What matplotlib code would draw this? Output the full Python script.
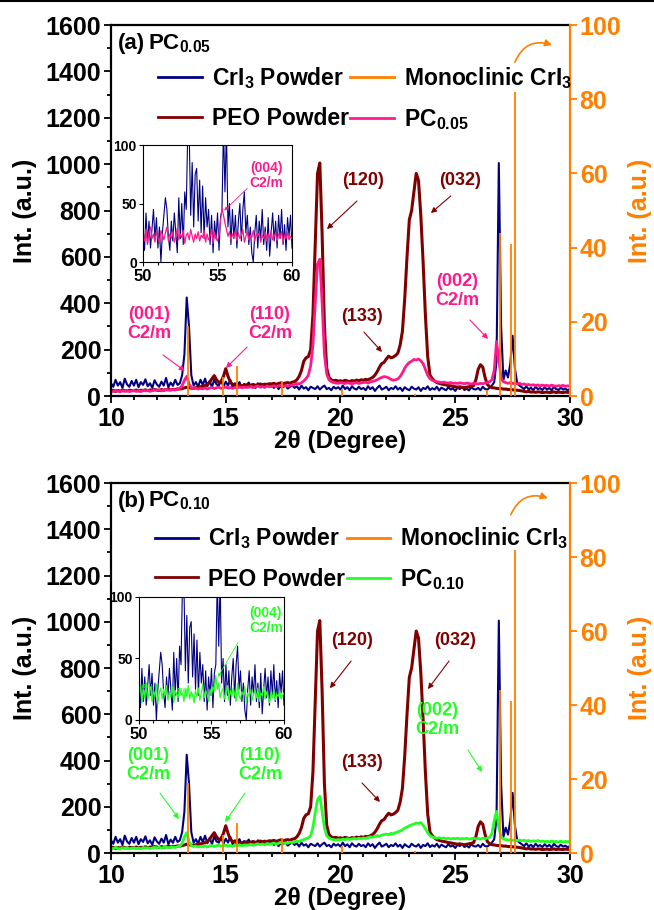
import numpy as np
import matplotlib
matplotlib.use("Agg")
import matplotlib.pyplot as plt
from matplotlib.ticker import MultipleLocator
from matplotlib.lines import Line2D

plt.rcParams['font.family'] = ['Liberation Sans', 'DejaVu Sans']
plt.rcParams['font.weight'] = 'bold'
plt.rcParams['axes.labelweight'] = 'bold'
plt.rcParams['mathtext.fontset'] = 'custom'
plt.rcParams['mathtext.rm'] = 'Liberation Sans:bold'
plt.rcParams['mathtext.bf'] = 'Liberation Sans:bold'
plt.rcParams['mathtext.it'] = 'Liberation Sans:bold:italic'

# ---------------- data ----------------
two_theta = np.round(np.arange(10.0, 30.0001, 0.1), 1)

cri3_powder = [
    55, 40, 70, 45, 60, 35, 75, 50, 40, 65,
    45, 70, 38, 60, 48, 72, 42, 55, 35, 68,
    50, 40, 62, 45, 78, 38, 58, 44, 70, 48,
    55, 90, 180, 425, 300, 90, 45, 60, 40, 70,
    48, 75, 42, 65, 38, 72, 50, 45, 68, 40,
    62, 45, 70, 38, 55, 48, 60, 35, 52, 45,
    58, 40, 50, 35, 55, 42, 48, 38, 52, 40,
    45, 35, 50, 30, 42, 38, 48, 32, 40, 45,
    35, 42, 28, 45, 32, 38, 25, 40, 35, 30,
    42, 28, 38, 45, 30, 35, 25, 40, 32, 38,
    28, 45, 30, 38, 25, 42, 32, 28, 40, 30,
    35, 25, 42, 30, 38, 22, 35, 45, 28, 33,
    40, 25, 35, 30, 42, 28, 36, 22, 38, 30,
    25, 40, 32, 28, 38, 22, 35, 30, 42, 26,
    34, 28, 40, 24, 36, 30, 25, 38, 28, 33,
    22, 36, 30, 40, 26, 32, 24, 38, 30, 28,
    35, 25, 40, 30, 28, 36, 45, 60, 150, 1005,
    300, 70, 110, 80, 140, 260, 120, 55, 45, 38,
    30, 42, 28, 36, 25, 40, 30, 34, 26, 38,
    28, 35, 24, 40, 30, 26, 36, 28, 32, 25,
    30]

peo_powder = [
    22, 25, 20, 24, 21, 26, 23, 22, 25, 24,
    23, 26, 22, 25, 24, 27, 23, 26, 25, 28,
    26, 24, 28, 25, 27, 30, 26, 29, 28, 31,
    30, 32, 35, 38, 36, 34, 33, 36, 38, 40,
    42, 45, 50, 60, 75, 88, 70, 58, 62, 85,
    118, 85, 60, 50, 48, 45, 47, 44, 46, 48,
    45, 47, 50, 46, 48, 52, 49, 51, 50, 53,
    52, 55, 50, 54, 57, 53, 56, 58, 55, 60,
    62, 70, 85, 110, 150, 165, 170, 200, 350, 650,
    960, 1005, 700, 300, 120, 80, 70, 66, 68, 64,
    66, 63, 68, 65, 62, 67, 64, 69, 66, 70,
    68, 72, 70, 75, 80, 90, 105, 125, 140, 145,
    160, 172, 165, 168, 175, 185, 220, 280, 420, 600,
    760, 800, 880, 960, 930, 780, 580, 350, 170, 90,
    75, 65, 58, 55, 52, 50, 48, 45, 44, 42,
    40, 38, 40, 37, 36, 38, 40, 42, 45, 70,
    115, 135, 125, 80, 50, 40, 36, 35, 33, 32,
    32, 30, 30, 28, 28, 27, 26, 25, 24, 22,
    20, 18, 20, 17, 18, 16, 18, 17, 15, 16,
    17, 15, 16, 18, 15, 17, 16, 15, 17, 16,
    16]

pc005 = [
    22, 19, 25, 21, 18, 23, 20, 24, 19, 22,
    24, 20, 23, 19, 25, 22, 24, 20, 23, 26,
    24, 27, 22, 26, 29, 25, 27, 28, 26, 30,
    32, 45, 68, 85, 52, 36, 32, 34, 30, 33,
    31, 35, 30, 34, 37, 32, 36, 38, 33, 36,
    39, 34, 37, 33, 38, 35, 39, 36, 38, 37,
    38, 41, 36, 40, 43, 38, 41, 37, 43, 40,
    41, 44, 40, 43, 46, 42, 45, 43, 47, 46,
    50, 54, 52, 58, 65, 75, 90, 130, 220, 400,
    570, 590, 400, 180, 95, 70, 62, 58, 56, 55,
    58, 56, 54, 58, 55, 53, 56, 58, 54, 57,
    58, 60, 56, 61, 63, 66, 70, 76, 80, 84,
    82, 78, 72, 68, 70, 74, 84, 100, 120, 135,
    145, 150, 158, 155, 160, 152, 140, 115, 90, 75,
    68, 64, 62, 60, 58, 60, 57, 56, 58, 55,
    56, 54, 57, 55, 53, 56, 54, 52, 55, 53,
    52, 55, 53, 56, 58, 62, 70, 110, 235, 160,
    75, 62, 58, 55, 58, 54, 56, 52, 55, 50,
    52, 48, 50, 46, 49, 45, 48, 44, 47, 45,
    46, 43, 47, 44, 42, 45, 43, 46, 42, 44,
    43]

pc010 = [
    22, 18, 25, 20, 17, 23, 19, 24, 18, 21,
    23, 19, 22, 18, 24, 21, 23, 19, 22, 25,
    22, 26, 21, 24, 27, 23, 25, 26, 24, 28,
    30, 42, 70, 88, 50, 32, 28, 30, 26, 29,
    27, 31, 26, 30, 33, 28, 32, 34, 29, 32,
    34, 30, 33, 29, 34, 31, 35, 32, 34, 33,
    35, 38, 33, 37, 40, 36, 39, 35, 41, 38,
    40, 43, 38, 42, 46, 41, 44, 42, 47, 45,
    48, 52, 50, 55, 58, 62, 66, 75, 110, 175,
    230, 245, 180, 110, 75, 65, 60, 58, 56, 58,
    57, 60, 58, 62, 59, 61, 63, 60, 64, 62,
    65, 63, 67, 70, 68, 72, 75, 73, 78, 80,
    82, 79, 85, 83, 88, 92, 95, 100, 108, 112,
    118, 122, 125, 130, 128, 132, 120, 105, 88, 75,
    70, 66, 64, 66, 63, 65, 62, 64, 61, 63,
    62, 64, 60, 63, 61, 64, 60, 62, 64, 61,
    63, 60, 64, 62, 65, 68, 85, 140, 180, 110,
    70, 60, 58, 56, 58, 55, 57, 54, 56, 53,
    55, 52, 54, 50, 53, 51, 54, 50, 52, 49,
    51, 48, 52, 49, 50, 47, 51, 48, 50, 49,
    50]

# Monoclinic CrI3 reference pattern (right axis)
mono_pos = [13.36, 14.89, 15.49, 17.45, 20.07, 23.25, 26.38, 26.94, 27.42, 27.60]
mono_int = [19, 5, 8, 4, 2, 0.6, 1.6, 44, 41, 82]

# inset (50-60 degrees)
inset_theta = np.round(np.arange(50.0, 60.0001, 0.1), 1)
inset_cri3 = [
    30, 10, 42, 15, 35, 12, 28, 45, 20, 38,
    12, 30, 0, 25, 40, 55, 45, 22, 10, 35,
    18, 42, 25, 8, 55, 20, 50, 15, 60, 45,
    110, 110, 40, 85, 30, 75, 80, 35, 70, 25,
    65, 20, 55, 30, 45, 15, 40, 8, 35, 20,
    42, 10, 38, 45, 115, 60, 115, 30, 50, 15,
    45, 20, 40, 12, 35, 50, 18, 45, 60, 25,
    40, 15, 30, 8, 0, 25, 40, 12, 35, 20,
    45, 15, 30, 10, 38, 5, 25, 42, 18, 35,
    12, 40, 20, 45, 15, 32, 10, 38, 22, 40,
    12]
inset_pc005 = [
    22, 18, 28, 15, 25, 30, 20, 24, 17, 26,
    21, 16, 27, 23, 19, 25, 30, 18, 24, 20,
    26, 17, 22, 29, 19, 24, 21, 27, 16, 23,
    25, 19, 28, 22, 17, 24, 20, 26, 18, 23,
    21, 27, 17, 24, 19, 22, 28, 16, 25, 20,
    18, 24, 35, 46, 40, 33, 28, 22, 26, 19,
    24, 21, 27, 18, 25, 20, 23, 28, 17, 22,
    26, 19, 23, 21, 27, 18, 24, 22, 25, 17,
    23, 20, 26, 18, 24, 21, 27, 19, 22, 25,
    18, 24, 21, 26, 17, 23, 20, 25, 19, 22,
    20]
inset_pc010 = [
    20, 28, 14, 25, 18, 30, 16, 23, 27, 15,
    24, 19, 29, 13, 22, 26, 17, 25, 20, 28,
    16, 23, 19, 27, 14, 24, 21, 18, 26, 20,
    22, 15, 25, 19, 28, 17, 23, 20, 14, 24,
    19, 26, 16, 22, 29, 18, 24, 21, 15, 25,
    20, 27, 24, 36, 25, 30, 18, 23, 26, 17,
    22, 28, 16, 24, 19, 26, 21, 15, 30, 20,
    17, 23, 20, 27, 14, 22, 19, 25, 16, 21,
    24, 18, 26, 15, 22, 20, 27, 17, 23, 19,
    14, 22, 18, 25, 16, 21, 19, 24, 17, 20,
    22]

C_CRI3 = '#000080'
C_PEO = '#800000'
C_PC5 = '#FF1A8C'
C_PC10 = '#22FF22'
C_MONO = '#FF8000'

fig = plt.figure(figsize=(6.54, 9.10), dpi=100)
fig.add_artist(Line2D([0, 1], [0.999, 0.999], color='black', lw=1.5))


def build_panel(rect, tag, pc_label, pc_data, pc_color, inset_rect, inset_pc, ann, ann_pc, inset_ann, curl,
                leg_anchor):
    ax = fig.add_axes(rect)
    ax.plot(two_theta, cri3_powder, color=C_CRI3, lw=1.5, label='CrI$_3$ Powder')
    ax.plot(two_theta, peo_powder, color=C_PEO, lw=2.2, label='PEO Powder')
    ax.plot(two_theta, pc_data, color=pc_color, lw=2.0, label=pc_label)
    ax.set_xlim(10, 30)
    ax.set_ylim(0, 1600)
    ax.xaxis.set_major_locator(MultipleLocator(5))
    ax.xaxis.set_minor_locator(MultipleLocator(1))
    ax.yaxis.set_major_locator(MultipleLocator(200))
    ax.yaxis.set_minor_locator(MultipleLocator(100))
    ax.tick_params(which='both', direction='out', width=1.3, labelsize=18, pad=2)
    ax.tick_params(axis='x', pad=3)
    ax.tick_params(which='major', length=5)
    ax.tick_params(which='minor', length=3)
    for s in ['left', 'top', 'bottom']:
        ax.spines[s].set_linewidth(1.6)
    ax.spines['right'].set_visible(False)
    ax.set_xlabel('2θ (Degree)', fontsize=17.5, labelpad=-1)
    ax.set_ylabel('Int. (a.u.)', fontsize=18, labelpad=6)

    ax2 = ax.twinx()
    ax2.vlines(mono_pos, 0, mono_int, color=C_MONO, lw=1.3, label='Monoclinic CrI$_3$')
    ax2.set_ylim(0, 100)
    ax2.yaxis.set_major_locator(MultipleLocator(20))
    for s in ['left', 'top', 'bottom']:
        ax2.spines[s].set_visible(False)
    ax2.spines['right'].set_color(C_MONO)
    ax2.spines['right'].set_linewidth(1.6)
    ax2.tick_params(axis='y', colors=C_MONO, direction='out', width=1.3, length=5,
                    labelsize=18, pad=2)
    ax2.set_ylabel('Int. (a.u.)', fontsize=18, color=C_MONO, labelpad=5)

    # legend
    h = [Line2D([], [], color=C_CRI3, lw=2), Line2D([], [], color=C_PEO, lw=2),
         Line2D([], [], color=C_MONO, lw=2), Line2D([], [], color=pc_color, lw=2)]
    lab = ['CrI$_3$ Powder', 'PEO Powder', 'Monoclinic CrI$_3$', pc_label]
    ax2.legend(h, lab, ncol=2, loc='upper left', bbox_to_anchor=leg_anchor,
               frameon=False, fontsize=16.5, handlelength=1.9, handletextpad=0.45,
               columnspacing=0.05, labelspacing=0.7, borderpad=0, borderaxespad=0)

    ax2.text(0.015, 0.951, tag, transform=ax.transAxes, fontsize=16, va='center', ha='left')
    ax2.text(0.081, 0.951, pc_label, transform=ax.transAxes, fontsize=16, va='center', ha='left')

    # annotations on data coords of main axis (via ax2 for z-order)
    for txt, col, tpos, a0, a1 in ann + ann_pc:
        ax2.text(tpos[0], tpos[1] / 16.0, txt, color=col, fontsize=13, ha='center', va='center',
                 linespacing=1.1)
        ax2.annotate('', xy=(a1[0], a1[1] / 16.0), xytext=(a0[0], a0[1] / 16.0),
                     arrowprops=dict(arrowstyle='-|>', color=col, lw=0.8, mutation_scale=8,
                                     shrinkA=0, shrinkB=0))
    # curved orange arrow
    ax2.annotate('', xy=curl[1], xytext=curl[0], xycoords='axes fraction',
                 textcoords='axes fraction',
                 arrowprops=dict(arrowstyle='-|>', color=C_MONO, lw=1.2, mutation_scale=10,
                                 connectionstyle='arc3,rad=-0.45', shrinkA=0, shrinkB=0))

    # inset
    axi = fig.add_axes(inset_rect)
    axi.set_zorder(10)
    axi.plot(inset_theta, inset_cri3, color=C_CRI3, lw=0.8)
    axi.plot(inset_theta, inset_pc, color=pc_color, lw=0.9)
    axi.set_xlim(50, 60)
    axi.set_ylim(0, 100)
    axi.xaxis.set_major_locator(MultipleLocator(5))
    axi.xaxis.set_minor_locator(MultipleLocator(1))
    axi.yaxis.set_major_locator(MultipleLocator(50))
    axi.tick_params(which='both', direction='out', width=0.8)
    axi.tick_params(which='major', length=3)
    axi.tick_params(which='minor', length=2)
    axi.tick_params(axis='x', labelsize=12, pad=2)
    axi.tick_params(axis='y', labelsize=10, pad=1.5)
    for s in axi.spines.values():
        s.set_linewidth(0.8)
    t, p0, p1 = inset_ann
    axi.text(t[0], t[1], '(004)\nC2/m', color=pc_color, fontsize=10, ha='center', va='center',
             linespacing=1.1)
    axi.annotate('', xy=p1, xytext=p0,
                 arrowprops=dict(arrowstyle='-|>', color=pc_color, lw=0.6, mutation_scale=5,
                                 shrinkA=0, shrinkB=0))
    return ax, ax2, axi


ann_peo_a = [
    ('(120)', C_PEO, (20.98, 931), (20.72, 841), (19.41, 720)),
    ('(032)', C_PEO, (25.21, 931), (24.81, 863), (23.94, 789)),
    ('(133)', C_PEO, (20.94, 341), (21.02, 276), (21.81, 190)),
]
ann_pc_a = [
    ('(001)\nC2/m', C_PC5, (11.66, 311), (12.27, 177), (13.22, 108)),
    ('(110)\nC2/m', C_PC5, (16.93, 311), (15.93, 211), (15.01, 121)),
    ('(002)\nC2/m', C_PC5, (25.08, 453), (25.64, 328), (26.43, 246)),
]
ann_peo_b = [
    ('(120)', C_PEO, (20.50, 921), (20.46, 830), (19.54, 713)),
    ('(032)', C_PEO, (24.99, 921), (24.73, 830), (23.81, 709)),
    ('(133)', C_PEO, (20.94, 393), (20.94, 303), (21.72, 221)),
]
ann_pc_b = [
    ('(001)\nC2/m', C_PC10, (11.61, 381), (12.14, 259), (12.96, 147)),
    ('(110)\nC2/m', C_PC10, (16.49, 381), (15.84, 259), (14.97, 134)),
    ('(002)\nC2/m', C_PC10, (24.20, 575), (25.56, 445), (26.17, 350)),
]

axA, axA2, axAi = build_panel([0.1697, 0.5648, 0.7018, 0.4077], '(a)', 'PC$_{0.05}$', pc005, C_PC5,
                              [0.2187, 0.7120, 0.2278, 0.1286], inset_pc005,
                              ann_peo_a, ann_pc_a,
                              ((58.27, 74), (57.0, 63), (55.45, 44)),
                              ((0.880, 0.900), (0.961, 0.946)),
                              (0.103, 0.893))
axB, axB2, axBi = build_panel([0.1697, 0.0626, 0.7018, 0.4066], '(b)', 'PC$_{0.10}$', pc010, C_PC10,
                              [0.2125, 0.2088, 0.2217, 0.1352], inset_pc010,
                              ann_peo_b, ann_pc_b,
                              ((58.76, 81), (56.83, 63), (55.45, 35)),
                              ((0.871, 0.914), (0.952, 0.959)),
                              (0.095, 0.885))
axBi.text(50.6, 27, '(001)', color=C_PC10, fontsize=3.5, ha='center', va='center')
axBi.text(53.0, 24, '(110)', color=C_PC10, fontsize=3.5, ha='center', va='center')

fig.savefig('out.png', dpi=100)
